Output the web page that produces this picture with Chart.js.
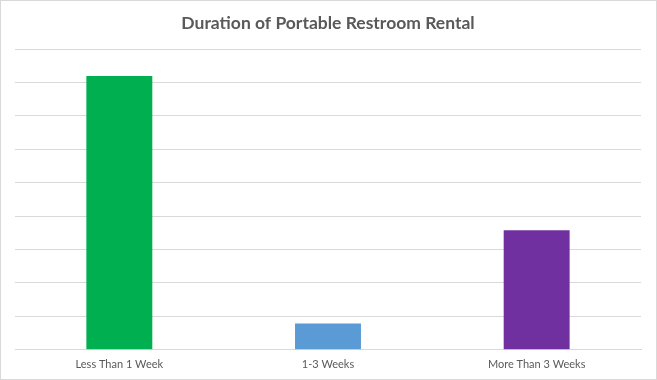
<!DOCTYPE html>
<html>
<head>
<meta charset="utf-8">
<script src="https://cdn.jsdelivr.net/npm/chart.js@4"></script>
<style>
  body { margin: 0; background: #fff; }
  #wrap { width: 657px; height: 380px; }
</style>
</head>
<body>
<div id="wrap"><canvas id="chart" width="657" height="380"></canvas></div>
<script>
// --- Data ---
const categories = ['Less Than 1 Week', '1-3 Weeks', 'More Than 3 Weeks'];
const values = [8.19, 0.79, 3.58];
const barColors = ['#00B050', '#5B9BD5', '#7030A0'];

// white background + thin frame like the spreadsheet chart
const framePlugin = {
    id: 'frame',
    beforeDraw(chart) {
        const ctx = chart.ctx;
        ctx.save();
        ctx.fillStyle = '#fff';
        ctx.fillRect(0, 0, chart.width, chart.height);
        ctx.strokeStyle = '#D9D9D9';
        ctx.lineWidth = 1;
        ctx.strokeRect(0.5, 0.5, chart.width - 1, chart.height - 1);
        ctx.restore();
    }
};

new Chart(document.getElementById('chart'), {
    type: 'bar',
    data: {
        labels: categories,
        datasets: [{
            data: values,
            backgroundColor: barColors,
            borderWidth: 0,
            categoryPercentage: 1,
            barPercentage: 0.316
        }]
    },
    options: {
        responsive: false,
        animation: false,
        layout: { padding: { left: 15, right: 16, top: 0, bottom: 9 } },
        plugins: {
            legend: { display: false },
            tooltip: { enabled: false },
            title: {
                display: true,
                text: 'Duration of Portable Restroom Rental',
                color: '#595959',
                font: { family: 'Lato, "Open Sans", sans-serif', size: 17.5, weight: 'bold' },
                padding: { top: 13, bottom: 15 }
            }
        },
        scales: {
            x: {
                grid: { display: false },
                border: { display: true, color: '#D9D9D9', width: 1 },
                ticks: {
                    color: '#595959',
                    padding: 0,
                    font: { family: 'Lato, "Open Sans", sans-serif', size: 11 }
                }
            },
            y: {
                min: 0,
                max: 9,
                ticks: { display: false, stepSize: 1 },
                grid: { color: '#D9D9D9', drawTicks: false },
                border: { display: false }
            }
        }
    },
    plugins: [framePlugin]
});
</script>
</body>
</html>
